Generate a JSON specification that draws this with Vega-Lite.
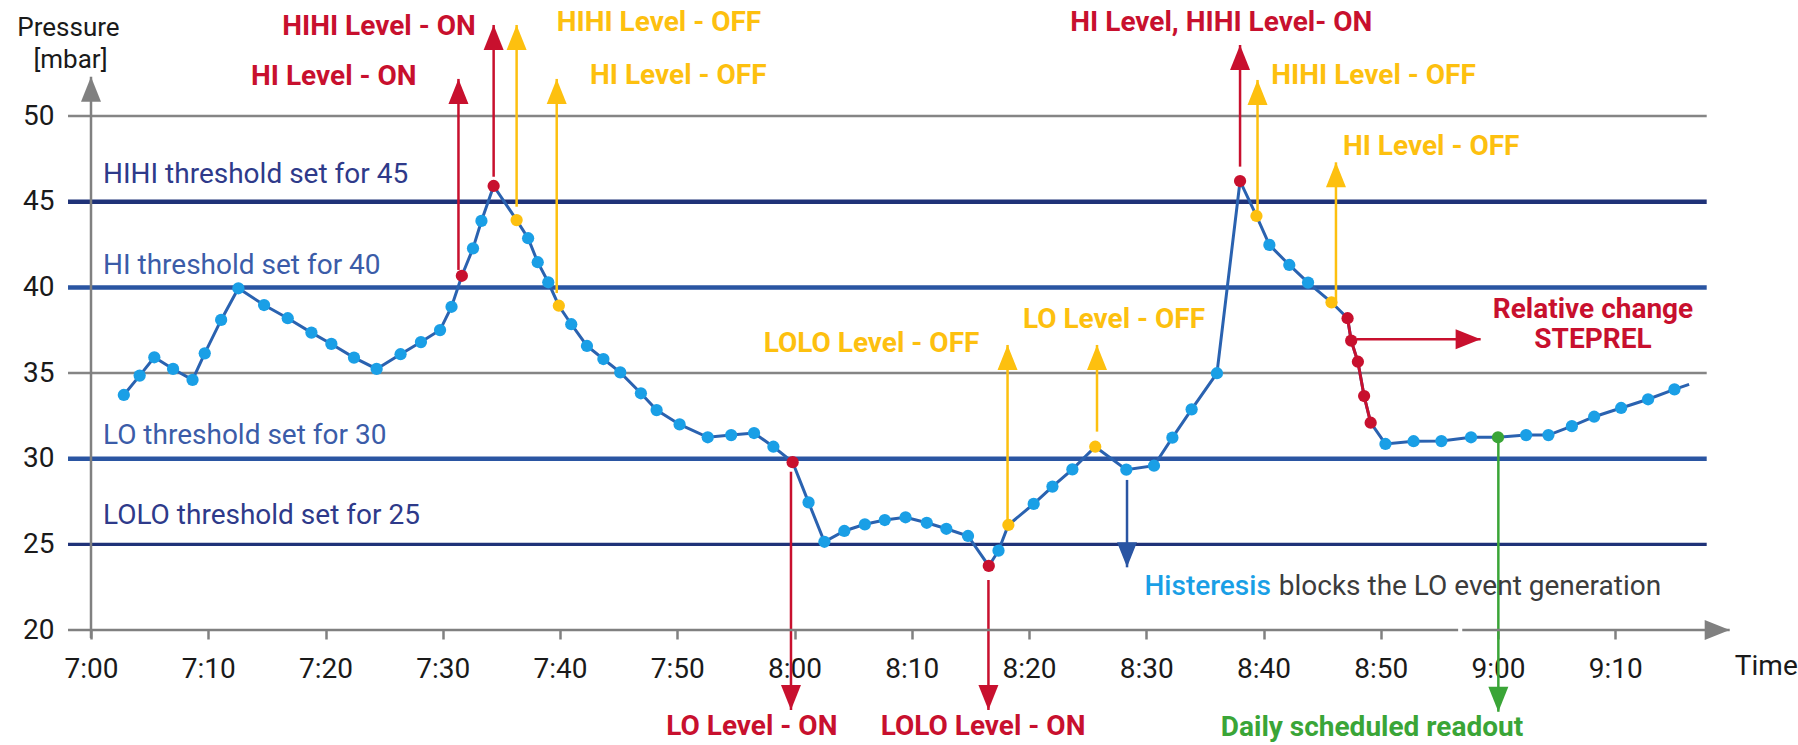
{
  "$schema": "https://vega.github.io/schema/vega-lite/v6.json",
  "width": 1641.5,
  "height": 513.9,
  "autosize": {"type": "none"},
  "padding": {"left": 91, "top": 116.1, "right": 65.5, "bottom": 115},
  "background": "#ffffff",
  "config": {"view": {"stroke": null}, "font": "Roboto"},
  "datasets": {
    "grid": [
      {"t": 418.04, "t2": 557.8, "v": 50, "g": "gray"},
      {"t": 418.04, "t2": 557.8, "v": 35, "g": "gray"},
      {"t": 418.04, "t2": 557.8, "v": 45, "g": "navy"},
      {"t": 418.04, "t2": 557.8, "v": 40, "g": "blue"},
      {"t": 418.04, "t2": 557.8, "v": 30, "g": "blue"},
      {"t": 418.04, "t2": 557.8, "v": 25, "g": "navy2"}
    ],
    "series": [
      {"t": 422.8, "v": 33.72, "c": "ok"},
      {"t": 424.15, "v": 34.85, "c": "ok"},
      {"t": 425.4, "v": 35.92, "c": "ok"},
      {"t": 427.0, "v": 35.24, "c": "ok"},
      {"t": 428.66, "v": 34.6, "c": "ok"},
      {"t": 429.7, "v": 36.15, "c": "ok"},
      {"t": 431.1, "v": 38.1, "c": "ok"},
      {"t": 432.57, "v": 39.95, "c": "ok"},
      {"t": 434.76, "v": 38.97, "c": "ok"},
      {"t": 436.78, "v": 38.2, "c": "ok"},
      {"t": 438.8, "v": 37.36, "c": "ok"},
      {"t": 440.5, "v": 36.7, "c": "ok"},
      {"t": 442.43, "v": 35.9, "c": "ok"},
      {"t": 444.36, "v": 35.24, "c": "ok"},
      {"t": 446.4, "v": 36.1, "c": "ok"},
      {"t": 448.14, "v": 36.81, "c": "ok"},
      {"t": 449.77, "v": 37.51, "c": "ok"},
      {"t": 450.75, "v": 38.87, "c": "ok"},
      {"t": 451.63, "v": 40.68, "c": "on"},
      {"t": 452.58, "v": 42.28, "c": "ok"},
      {"t": 453.3, "v": 43.88, "c": "ok"},
      {"t": 454.34, "v": 45.92, "c": "on"},
      {"t": 456.3, "v": 43.93, "c": "off"},
      {"t": 457.28, "v": 42.87, "c": "ok"},
      {"t": 458.1, "v": 41.47, "c": "ok"},
      {"t": 459.0, "v": 40.3, "c": "ok"},
      {"t": 459.9, "v": 38.93, "c": "off"},
      {"t": 460.96, "v": 37.85, "c": "ok"},
      {"t": 462.3, "v": 36.58, "c": "ok"},
      {"t": 463.7, "v": 35.82, "c": "ok"},
      {"t": 465.14, "v": 35.04, "c": "ok"},
      {"t": 466.9, "v": 33.82, "c": "ok"},
      {"t": 468.24, "v": 32.84, "c": "ok"},
      {"t": 470.2, "v": 32.0, "c": "ok"},
      {"t": 472.6, "v": 31.25, "c": "ok"},
      {"t": 474.6, "v": 31.38, "c": "ok"},
      {"t": 476.55, "v": 31.5, "c": "ok"},
      {"t": 478.2, "v": 30.7, "c": "ok"},
      {"t": 479.84, "v": 29.8, "c": "on"},
      {"t": 481.2, "v": 27.45, "c": "ok"},
      {"t": 482.55, "v": 25.15, "c": "ok"},
      {"t": 484.25, "v": 25.78, "c": "ok"},
      {"t": 486.0, "v": 26.17, "c": "ok"},
      {"t": 487.7, "v": 26.42, "c": "ok"},
      {"t": 489.47, "v": 26.58, "c": "ok"},
      {"t": 491.28, "v": 26.26, "c": "ok"},
      {"t": 492.95, "v": 25.91, "c": "ok"},
      {"t": 494.8, "v": 25.49, "c": "ok"},
      {"t": 496.57, "v": 23.74, "c": "on"},
      {"t": 497.4, "v": 24.63, "c": "ok"},
      {"t": 498.24, "v": 26.13, "c": "off"},
      {"t": 500.4, "v": 27.36, "c": "ok"},
      {"t": 502.0, "v": 28.37, "c": "ok"},
      {"t": 503.7, "v": 29.38, "c": "ok"},
      {"t": 505.65, "v": 30.7, "c": "off"},
      {"t": 508.3, "v": 29.36, "c": "ok"},
      {"t": 510.66, "v": 29.59, "c": "ok"},
      {"t": 512.23, "v": 31.23, "c": "ok"},
      {"t": 513.87, "v": 32.88, "c": "ok"},
      {"t": 516.03, "v": 34.99, "c": "ok"},
      {"t": 518.0, "v": 46.21, "c": "on"},
      {"t": 519.4, "v": 44.17, "c": "off"},
      {"t": 520.5, "v": 42.48, "c": "ok"},
      {"t": 522.2, "v": 41.31, "c": "ok"},
      {"t": 523.8, "v": 40.28, "c": "ok"},
      {"t": 525.8, "v": 39.13, "c": "off"},
      {"t": 527.17, "v": 38.2, "c": "on"},
      {"t": 527.48, "v": 36.89, "c": "on"},
      {"t": 528.05, "v": 35.66, "c": "on"},
      {"t": 528.58, "v": 33.66, "c": "on"},
      {"t": 529.14, "v": 32.1, "c": "on"},
      {"t": 530.4, "v": 30.86, "c": "ok"},
      {"t": 532.8, "v": 31.02, "c": "ok"},
      {"t": 535.17, "v": 31.03, "c": "ok"},
      {"t": 537.7, "v": 31.25, "c": "ok"},
      {"t": 540.0, "v": 31.25, "c": "daily"},
      {"t": 542.4, "v": 31.38, "c": "ok"},
      {"t": 544.3, "v": 31.38, "c": "ok"},
      {"t": 546.3, "v": 31.9, "c": "ok"},
      {"t": 548.2, "v": 32.45, "c": "ok"},
      {"t": 550.5, "v": 32.96, "c": "ok"},
      {"t": 552.8, "v": 33.47, "c": "ok"},
      {"t": 555.05, "v": 34.05, "c": "ok"},
      {"t": 556.3, "v": 34.34, "c": "none"}
    ],
    "arrows": [
      {"t": 451.34, "v": 41.02, "v2": 52.17, "c": "on"},
      {"t": 454.34, "v": 46.46, "v2": 55.32, "c": "on"},
      {"t": 456.3, "v": 44.71, "v2": 55.32, "c": "off"},
      {"t": 459.72, "v": 39.67, "v2": 52.17, "c": "off"},
      {"t": 479.7, "v": 29.24, "v2": 15.33, "c": "on"},
      {"t": 496.54, "v": 22.92, "v2": 15.33, "c": "on"},
      {"t": 498.17, "v": 26.25, "v2": 36.64, "c": "off"},
      {"t": 505.8, "v": 31.58, "v2": 36.64, "c": "off"},
      {"t": 508.36, "v": 28.76, "v2": 23.66, "c": "hyst"},
      {"t": 518.0, "v": 47.05, "v2": 54.15, "c": "on"},
      {"t": 519.49, "v": 44.52, "v2": 52.11, "c": "off"},
      {"t": 526.18, "v": 39.26, "v2": 47.3, "c": "off"},
      {"t": 540.03, "v": 31.27, "v2": 15.23, "c": "daily"},
      {"t": 420, "v": 19.53, "v2": 52.3, "c": "axis"}
    ],
    "harrows": [
      {"t": 527.94, "t2": 538.52, "v": 36.97, "c": "on"},
      {"t": 418.04, "t2": 536.6, "v": 20, "c": "axis"},
      {"t": 536.95, "t2": 559.76, "v": 20, "c": "axis"}
    ],
    "heads": [
      {"t": 451.34, "v": 52.17, "dir": "up", "c": "on"},
      {"t": 454.34, "v": 55.32, "dir": "up", "c": "on"},
      {"t": 456.3, "v": 55.32, "dir": "up", "c": "off"},
      {"t": 459.72, "v": 52.17, "dir": "up", "c": "off"},
      {"t": 479.7, "v": 15.33, "dir": "down", "c": "on"},
      {"t": 496.54, "v": 15.33, "dir": "down", "c": "on"},
      {"t": 498.17, "v": 36.64, "dir": "up", "c": "off"},
      {"t": 505.8, "v": 36.64, "dir": "up", "c": "off"},
      {"t": 508.36, "v": 23.66, "dir": "down", "c": "hyst"},
      {"t": 518.0, "v": 54.15, "dir": "up", "c": "on"},
      {"t": 519.49, "v": 52.11, "dir": "up", "c": "off"},
      {"t": 526.18, "v": 47.3, "dir": "up", "c": "off"},
      {"t": 540.03, "v": 15.23, "dir": "down", "c": "daily"},
      {"t": 538.52, "v": 36.97, "dir": "right", "c": "on"},
      {"t": 420, "v": 52.3, "dir": "up", "c": "axis"},
      {"t": 559.76, "v": 20, "dir": "right", "c": "axis"}
    ],
    "ann": [
      {"t": 444.56, "v": 55.22, "lab": "HIHI Level - ON", "c": "on"},
      {"t": 440.71, "v": 52.3, "lab": "HI Level - ON", "c": "on"},
      {"t": 468.44, "v": 55.42, "lab": "HIHI Level - OFF", "c": "off"},
      {"t": 470.09, "v": 52.34, "lab": "HI Level - OFF", "c": "off"},
      {"t": 516.4, "v": 55.44, "lab": "HI Level, HIHI Level- ON", "c": "on"},
      {"t": 529.39, "v": 52.34, "lab": "HIHI Level - OFF", "c": "off"},
      {"t": 534.3, "v": 48.22, "lab": "HI Level - OFF", "c": "off"},
      {"t": 486.57, "v": 36.7, "lab": "LOLO Level - OFF", "c": "off"},
      {"t": 507.25, "v": 38.1, "lab": "LO Level - OFF", "c": "off"},
      {"t": 476.36, "v": 14.35, "lab": "LO Level - ON", "c": "on"},
      {"t": 496.08, "v": 14.35, "lab": "LOLO Level - ON", "c": "on"},
      {"t": 529.25, "v": 14.26, "lab": "Daily scheduled readout", "c": "daily"},
      {"t": 548.1, "v": 38.68, "lab": "Relative change", "c": "on"},
      {"t": 548.1, "v": 36.93, "lab": "STEPREL", "c": "on"}
    ],
    "leftlabels": [
      {"t": 421.02, "v": 46.56, "lab": "HIHI threshold set for 45", "c": "navy"},
      {"t": 421.02, "v": 41.27, "lab": "HI threshold set for 40", "c": "blue"},
      {"t": 421.02, "v": 31.34, "lab": "LO threshold set for 30", "c": "blue"},
      {"t": 421.02, "v": 26.67, "lab": "LOLO threshold set for 25", "c": "navy"},
      {"t": 560.2, "v": 17.84, "lab": "Time", "c": "black"},
      {"t": 521.3, "v": 22.53, "lab": "blocks the LO event generation", "c": "gray"}
    ]
  },
  "layer": [
    {
      "data": {"name": "grid"},
      "transform": [{"filter": "datum.g == 'gray'"}],
      "mark": {"type": "rule", "color": "#858585", "strokeWidth": 2.5},
      "encoding": {
        "x": {"field": "t", "type": "quantitative"},
        "x2": {"field": "t2"},
        "y": {"field": "v", "type": "quantitative"}
      }
    },
    {
      "data": {"name": "grid"},
      "transform": [{"filter": "datum.g == 'navy'"}],
      "mark": {"type": "rule", "color": "#1f3278", "strokeWidth": 4.5},
      "encoding": {
        "x": {"field": "t", "type": "quantitative"},
        "x2": {"field": "t2"},
        "y": {"field": "v", "type": "quantitative"}
      }
    },
    {
      "data": {"name": "grid"},
      "transform": [{"filter": "datum.g == 'blue'"}],
      "mark": {"type": "rule", "color": "#2a55a2", "strokeWidth": 4.5},
      "encoding": {
        "x": {"field": "t", "type": "quantitative"},
        "x2": {"field": "t2"},
        "y": {"field": "v", "type": "quantitative"}
      }
    },
    {
      "data": {"name": "grid"},
      "transform": [{"filter": "datum.g == 'navy2'"}],
      "mark": {"type": "rule", "color": "#1f3278", "strokeWidth": 3.2},
      "encoding": {
        "x": {"field": "t", "type": "quantitative"},
        "x2": {"field": "t2"},
        "y": {"field": "v", "type": "quantitative"}
      }
    },
    {
      "data": {"name": "arrows"},
      "mark": {"type": "rule", "strokeWidth": 2.5},
      "encoding": {
        "x": {"field": "t", "type": "quantitative"},
        "y": {"field": "v", "type": "quantitative"},
        "y2": {"field": "v2"},
        "color": {"field": "c", "type": "nominal", "legend": null, "scale": {"domain": ["ok", "on", "off", "daily", "hyst", "axis", "navy", "blue", "black", "gray"], "range": ["#1a9fe6", "#c8102e", "#fdc00f", "#3aa537", "#2a55a3", "#808080", "#2e3a8a", "#3b5ca8", "#1a1a1a", "#3c3c3c"]}}
      }
    },
    {
      "data": {"name": "harrows"},
      "mark": {"type": "rule", "strokeWidth": 2.5},
      "encoding": {
        "x": {"field": "t", "type": "quantitative"},
        "x2": {"field": "t2"},
        "y": {"field": "v", "type": "quantitative"},
        "color": {"field": "c", "type": "nominal", "legend": null, "scale": {"domain": ["ok", "on", "off", "daily", "hyst", "axis", "navy", "blue", "black", "gray"], "range": ["#1a9fe6", "#c8102e", "#fdc00f", "#3aa537", "#2a55a3", "#808080", "#2e3a8a", "#3b5ca8", "#1a1a1a", "#3c3c3c"]}}
      }
    },
    {
      "data": {"name": "series"},
      "mark": {"type": "line", "color": "#2a62b0", "strokeWidth": 3},
      "encoding": {
        "x": {"field": "t", "type": "quantitative", "scale": {"domain": [420, 560], "nice": false, "zero": false},
          "axis": {"orient": "bottom", "values": [420, 430, 440, 450, 460, 470, 480, 490, 500, 510, 520, 530, 540, 550],
            "labelExpr": "floor(datum.value / 60) + ':' + (datum.value % 60 == 0 ? '00' : '' + (datum.value % 60))",
            "domain": false, "grid": false, "ticks": true, "tickSize": 9, "tickWidth": 2.5, "tickColor": "#808080",
            "labelFont": "Roboto", "labelFontSize": 28, "labelColor": "#1a1a1a", "labelPadding": 16, "labelFlush": false, "labelOverlap": false, "title": null}},
        "y": {"field": "v", "type": "quantitative", "scale": {"domain": [20, 50], "nice": false, "zero": false},
          "axis": {"orient": "left", "values": [20, 25, 30, 35, 40, 45, 50], "domain": false, "grid": false, "ticks": false, "tickSize": 0,
            "labelFont": "Roboto", "labelFontSize": 28, "labelColor": "#1a1a1a", "labelPadding": 37, "labelFlush": false, "labelOverlap": false, "title": null}}
      }
    },
    {
      "data": {"name": "series"},
      "transform": [{"filter": "datum.t >= 527 && datum.t <= 529.5"}],
      "mark": {"type": "line", "color": "#c8102e", "strokeWidth": 3},
      "encoding": {
        "x": {"field": "t", "type": "quantitative"},
        "y": {"field": "v", "type": "quantitative"}
      }
    },
    {
      "data": {"name": "series"},
      "transform": [{"filter": "datum.c != 'none'"}],
      "mark": {"type": "circle", "size": 150, "opacity": 1},
      "encoding": {
        "x": {"field": "t", "type": "quantitative"},
        "y": {"field": "v", "type": "quantitative"},
        "color": {"field": "c", "type": "nominal", "legend": null, "scale": {"domain": ["ok", "on", "off", "daily", "hyst", "axis", "navy", "blue", "black", "gray"], "range": ["#1a9fe6", "#c8102e", "#fdc00f", "#3aa537", "#2a55a3", "#808080", "#2e3a8a", "#3b5ca8", "#1a1a1a", "#3c3c3c"]}}
      }
    },
    {
      "data": {"name": "heads"},
      "mark": {"type": "point", "filled": true, "size": 625, "opacity": 1, "strokeWidth": 0},
      "encoding": {
        "x": {"field": "t", "type": "quantitative"},
        "y": {"field": "v", "type": "quantitative"},
        "shape": {"field": "dir", "type": "nominal", "legend": null, "scale": {"domain": ["up", "down", "right"], "range": ["M0,0L-0.8,2L0.8,2Z", "M0,0L-0.8,-2L0.8,-2Z", "M0,0L-2,-0.8L-2,0.8Z"]}},
        "color": {"field": "c", "type": "nominal", "legend": null, "scale": {"domain": ["ok", "on", "off", "daily", "hyst", "axis", "navy", "blue", "black", "gray"], "range": ["#1a9fe6", "#c8102e", "#fdc00f", "#3aa537", "#2a55a3", "#808080", "#2e3a8a", "#3b5ca8", "#1a1a1a", "#3c3c3c"]}}
      }
    },
    {
      "data": {"name": "ann"},
      "mark": {"type": "text", "font": "Roboto", "fontSize": 28, "fontWeight": "bold", "align": "center", "baseline": "middle"},
      "encoding": {
        "x": {"field": "t", "type": "quantitative"},
        "y": {"field": "v", "type": "quantitative"},
        "text": {"field": "lab"},
        "color": {"field": "c", "type": "nominal", "legend": null, "scale": {"domain": ["ok", "on", "off", "daily", "hyst", "axis", "navy", "blue", "black", "gray"], "range": ["#1a9fe6", "#c8102e", "#fdc00f", "#3aa537", "#2a55a3", "#808080", "#2e3a8a", "#3b5ca8", "#1a1a1a", "#3c3c3c"]}}
      }
    },
    {
      "data": {"name": "leftlabels"},
      "mark": {"type": "text", "font": "Roboto", "fontSize": 28, "align": "left", "baseline": "middle"},
      "encoding": {
        "x": {"field": "t", "type": "quantitative"},
        "y": {"field": "v", "type": "quantitative"},
        "text": {"field": "lab"},
        "color": {"field": "c", "type": "nominal", "legend": null, "scale": {"domain": ["ok", "on", "off", "daily", "hyst", "axis", "navy", "blue", "black", "gray"], "range": ["#1a9fe6", "#c8102e", "#fdc00f", "#3aa537", "#2a55a3", "#808080", "#2e3a8a", "#3b5ca8", "#1a1a1a", "#3c3c3c"]}}
      }
    },
    {
      "data": {"values": [{"t": 509.85, "v": 22.53, "lab": "Histeresis"}]},
      "mark": {"type": "text", "font": "Roboto", "fontSize": 28, "fontWeight": 500, "align": "left", "baseline": "middle", "color": "#1a9fe6"},
      "encoding": {
        "x": {"field": "t", "type": "quantitative"},
        "y": {"field": "v", "type": "quantitative"},
        "text": {"field": "lab"}
      }
    },
    {
      "data": {"values": [{"t": 418.08, "v": 55.12, "lab": "Pressure"}, {"t": 418.25, "v": 53.3, "lab": "[mbar]"}]},
      "mark": {"type": "text", "font": "Roboto", "fontSize": 26, "align": "center", "baseline": "middle", "color": "#1a1a1a"},
      "encoding": {
        "x": {"field": "t", "type": "quantitative"},
        "y": {"field": "v", "type": "quantitative"},
        "text": {"field": "lab"}
      }
    }
  ]
}
